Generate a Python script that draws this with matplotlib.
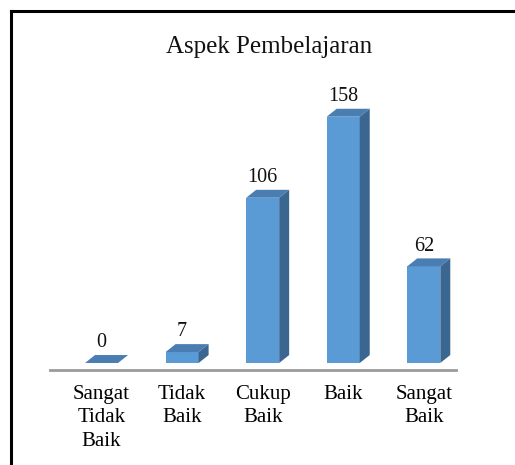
import matplotlib
matplotlib.use("Agg")
import matplotlib.pyplot as plt
from matplotlib.patches import Polygon
from matplotlib.lines import Line2D

# data
kategori = ["Sangat\nTidak\nBaik", "Tidak\nBaik", "Cukup\nBaik", "Baik", "Sangat\nBaik"]
nilai = [0, 7, 106, 158, 62]
judul = "Aspek Pembelajaran"

# warna ala excel 3d
warna_depan = "#5B9BD5"
warna_atas = "#4A7DB2"
warna_samping = "#3B6690"

plt.rcParams["font.family"] = ["Liberation Serif", "DejaVu Serif"]

fig = plt.figure(figsize=(5.15, 4.65), dpi=100)
ax = fig.add_axes([50 / 515, 95 / 465, 406 / 515, 272 / 465])
ax.set_xlim(-0.64, 4.40)
ax.set_ylim(-4.5, 170)

lebar = 0.41
dx = 0.124   # kedalaman ke kanan
dy = 5.1     # kedalaman ke atas

pos = list(range(len(nilai)))
ax.bar(pos, nilai, width=lebar, color=warna_depan, zorder=3)

for x, v in zip(pos, nilai):
    kiri, kanan = x - lebar / 2, x + lebar / 2
    # sisi atas
    ax.add_patch(Polygon([(kiri, v), (kanan, v), (kanan + dx, v + dy), (kiri + dx, v + dy)],
                         closed=True, facecolor=warna_atas, edgecolor="none", zorder=4))
    # sisi samping
    if v > 0:
        ax.add_patch(Polygon([(kanan, 0), (kanan + dx, dy), (kanan + dx, v + dy), (kanan, v)],
                             closed=True, facecolor=warna_samping, edgecolor="none", zorder=4))
    ax.annotate(str(v), (x, v + dy), xytext=(0, 2), textcoords="offset points",
                ha="center", va="bottom", fontsize=14.5, color="#111111")

# garis sumbu
for s in ["top", "right", "left"]:
    ax.spines[s].set_visible(False)
ax.spines["bottom"].set_color("#9A9A9A")
ax.spines["bottom"].set_linewidth(2)
ax.set_yticks([])
ax.set_xticks(pos)
ax.set_xticklabels(kategori, fontsize=15, linespacing=1.3, va="top")
ax.tick_params(axis="x", length=0, pad=11)

fig.text(269 / 515, 1 - 47 / 465, judul, ha="center", va="center", fontsize=18, color="#111111")

# bingkai
fig.add_artist(Line2D([11 / 515, 11 / 515], [0, 1 - 11 / 465], color="black", lw=2.2))
fig.add_artist(Line2D([11 / 515, 1], [1 - 11 / 465, 1 - 11 / 465], color="black", lw=2.2))

fig.savefig("out.png", dpi=100)
